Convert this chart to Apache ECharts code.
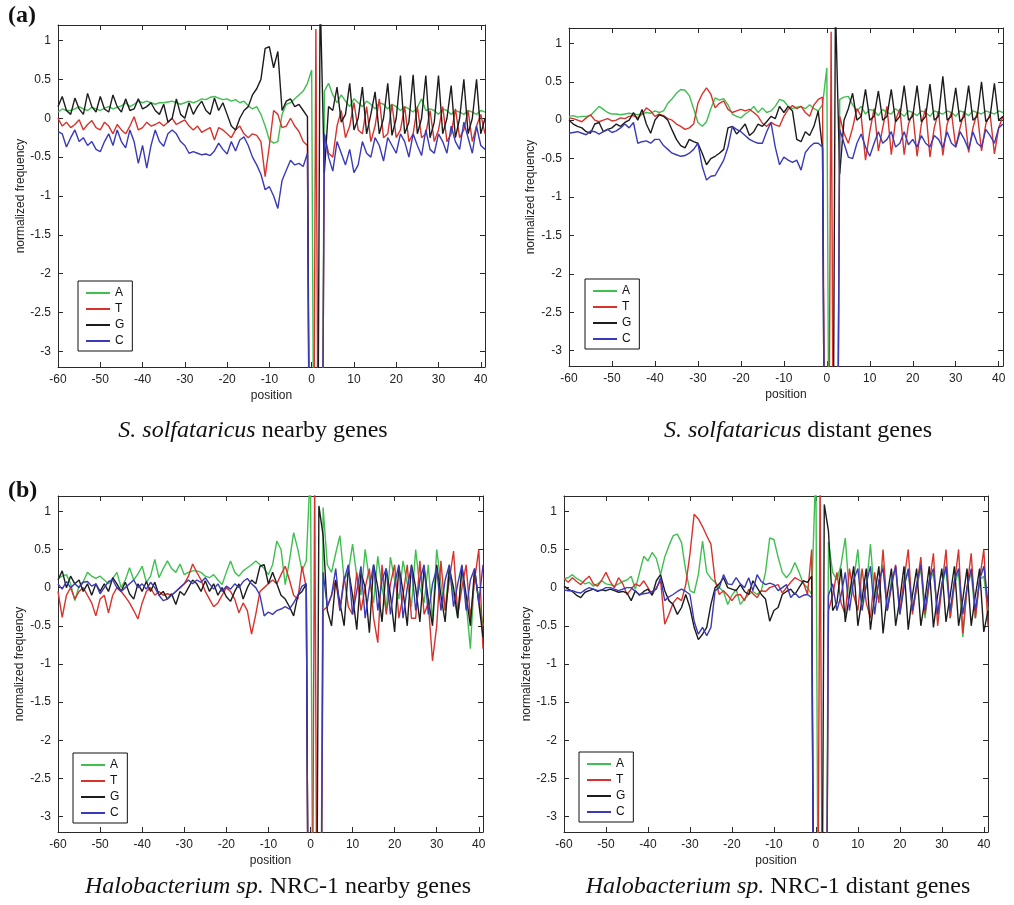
<!DOCTYPE html>
<html>
<head>
<meta charset="utf-8">
<script src="https://cdn.jsdelivr.net/npm/echarts@6/dist/echarts.min.js"></script>
<style>
html,body{margin:0;padding:0;background:#fff;}
#chart{width:1014px;height:905px;}
</style>
</head>
<body>
<div id="chart"></div>
<script>
// positions -60 .. 41
const positions = [];
for (let p = -60; p <= 41; p++) positions.push(p);

const xTickLabels = [-60, -50, -40, -30, -20, -10, 0, 10, 20, 30, 40];
const yTickLabels = [-3, -2.5, -2, -1.5, -1, -0.5, 0, 0.5, 1];
const bases = ['A', 'T', 'G', 'C'];
const captions = [
  ['S. solfataricus', ' nearby genes'],
  ['S. solfataricus', ' distant genes'],
  ['Halobacterium sp.', ' NRC-1 nearby genes'],
  ['Halobacterium sp.', ' NRC-1 distant genes']
];

// ---------- Panel 1: S. solfataricus nearby ----------
const A1 = [0.08,0.12,0.10,0.10,0.12,0.15,0.12,0.10,0.14,0.12,
  0.10,0.13,0.15,0.12,0.14,0.16,0.20,0.15,0.18,0.22,
  0.20,0.22,0.20,0.18,0.20,0.20,0.21,0.22,0.20,0.18,
  0.20,0.22,0.20,0.22,0.25,0.24,0.27,0.28,0.26,0.24,
  0.25,0.22,0.24,0.20,0.22,0.16,0.12,0.15,0.05,-0.10,
  -0.28,-0.32,-0.30,0.05,0.18,0.20,0.25,0.30,0.35,0.45,
  0.62,-10,-10,0.35,0.45,0.30,0.20,0.30,0.22,0.15,
  0.25,0.20,0.15,0.22,0.18,0.12,0.20,0.18,0.12,0.18,
  0.15,0.10,0.15,0.12,0.08,0.14,0.25,0.10,0.12,0.10,
  0.05,0.12,0.10,0.05,0.10,0.08,0.05,0.10,0.08,0.05,
  0.10,0.08];
const T1 = [0.00,-0.10,-0.05,-0.12,-0.08,-0.02,-0.15,-0.08,-0.03,-0.12,
  -0.15,-0.05,-0.10,-0.20,-0.08,-0.15,-0.20,-0.10,0.02,-0.15,
  -0.12,-0.05,-0.10,-0.08,-0.05,-0.10,-0.05,0.00,-0.08,-0.05,
  -0.02,-0.10,-0.15,-0.10,-0.18,-0.15,-0.12,-0.28,-0.12,-0.15,
  -0.20,-0.25,-0.15,-0.10,-0.20,-0.25,-0.20,-0.22,-0.30,-0.75,
  -0.35,0.10,0.05,-0.12,-0.10,0.00,-0.10,-0.17,-0.30,-0.35,
  -10,1.15,-10,-0.20,-0.45,-0.50,-0.10,0.10,-0.25,-0.10,
  0.20,-0.15,-0.20,0.15,-0.30,-0.10,0.25,-0.25,-0.20,0.18,
  -0.25,-0.15,0.15,-0.30,-0.20,0.15,-0.25,-0.20,0.10,-0.30,
  -0.15,0.15,-0.30,-0.20,0.12,-0.25,-0.15,0.10,-0.30,-0.10,
  0.05,-0.20];
const G1 = [0.15,0.28,0.10,0.05,0.26,0.12,0.05,0.32,0.15,0.08,
  0.28,0.12,0.08,0.30,0.15,0.08,0.25,0.10,0.12,0.25,
  0.12,0.15,0.20,0.10,0.05,0.18,-0.05,0.00,0.25,0.05,
  0.00,0.20,0.05,0.15,0.22,0.10,0.05,0.26,0.10,0.20,
  0.05,-0.10,-0.15,0.00,0.10,0.15,0.30,0.38,0.50,0.90,
  0.92,0.65,0.86,0.10,0.22,0.25,0.15,0.18,0.10,0.02,
  -10,-10,1.6,-0.70,0.15,0.10,0.40,-0.05,0.05,0.45,
  -0.15,0.00,0.40,-0.20,0.05,0.34,-0.20,0.00,0.45,-0.22,
  0.00,0.55,-0.20,-0.05,0.56,-0.20,0.00,0.55,-0.25,-0.05,
  0.55,-0.20,0.00,0.42,-0.25,0.00,0.50,-0.20,0.00,0.50,
  -0.20,0.00];
const C1 = [-0.17,-0.20,-0.37,-0.25,-0.15,-0.30,-0.25,-0.35,-0.30,-0.40,
  -0.43,-0.30,-0.20,-0.35,-0.15,-0.30,-0.38,-0.15,-0.30,-0.58,
  -0.35,-0.64,-0.35,-0.15,-0.30,-0.36,-0.20,-0.15,-0.20,-0.30,
  -0.35,-0.45,-0.43,-0.45,-0.47,-0.46,-0.48,-0.42,-0.32,-0.40,
  -0.46,-0.30,-0.42,-0.28,-0.24,-0.35,-0.50,-0.60,-0.72,-0.92,
  -0.88,-1.00,-1.16,-0.80,-0.67,-0.54,-0.60,-0.58,-0.62,-0.45,
  -10,-10,-10,-0.20,-0.50,-0.68,-0.30,-0.45,-0.60,-0.40,
  -0.70,-0.60,-0.30,-0.45,-0.50,-0.25,-0.35,-0.55,-0.25,-0.35,
  -0.45,-0.20,-0.30,-0.50,-0.20,-0.35,-0.48,-0.15,-0.40,-0.45,
  -0.20,-0.30,-0.45,-0.10,-0.30,-0.40,-0.05,-0.25,-0.45,-0.10,
  -0.35,-0.40];

// ---------- Panel 2: S. solfataricus distant ----------
const A2 = [0.05,0.06,0.04,0.05,0.05,0.06,0.12,0.18,0.14,0.10,
  0.08,0.08,0.07,0.08,0.09,0.08,0.07,0.08,0.10,0.09,
  0.12,0.10,0.12,0.22,0.28,0.35,0.40,0.39,0.32,0.15,
  -0.03,-0.08,-0.02,0.15,0.29,0.26,0.28,0.20,0.08,0.05,
  0.03,0.08,0.12,0.18,0.10,0.16,0.10,0.12,0.18,0.27,
  0.25,0.18,0.15,0.17,0.18,0.15,0.20,0.15,0.12,0.20,
  0.68,-10,-10,0.27,0.30,0.31,0.20,0.12,0.18,0.08,
  0.14,0.12,0.06,0.14,0.10,0.08,0.15,0.10,0.05,0.12,
  0.10,0.06,0.12,0.10,0.05,0.12,0.10,0.08,0.12,0.10,
  0.05,0.12,0.10,0.06,0.12,0.10,0.08,0.12,0.10,0.08,
  0.12,0.10];
const T2 = [0.03,0.02,0.00,-0.02,0.03,0.07,0.00,-0.02,0.00,0.02,
  -0.01,0.00,0.03,0.02,0.05,0.06,0.03,0.08,0.16,0.12,
  0.05,0.08,0.06,0.02,0.00,-0.05,-0.08,-0.12,-0.10,-0.05,
  0.22,0.34,0.42,0.34,0.16,0.22,0.25,0.14,0.10,0.12,
  0.14,0.12,0.14,0.10,0.05,-0.04,-0.08,-0.03,-0.06,-0.08,
  0.05,0.14,0.19,0.15,0.18,0.10,0.05,0.20,0.27,0.30,
  -10,1.15,-10,0.05,-0.17,-0.30,-0.10,0.15,0.05,-0.52,
  -0.15,0.15,-0.40,-0.10,0.18,-0.45,0.00,0.15,-0.45,-0.05,
  0.10,-0.47,-0.05,0.15,-0.48,-0.10,0.12,-0.46,-0.05,0.10,
  -0.35,-0.10,0.12,-0.42,-0.10,0.10,-0.40,-0.05,0.08,-0.44,
  -0.10,0.05];
const G2 = [0.00,-0.05,-0.08,-0.10,-0.15,-0.17,-0.05,-0.03,-0.15,-0.12,
  -0.10,-0.05,-0.08,-0.03,0.00,0.10,0.00,0.14,-0.05,-0.17,
  0.00,0.07,0.05,0.00,-0.13,-0.25,-0.33,-0.36,-0.25,-0.28,
  -0.30,-0.43,-0.58,-0.50,-0.47,-0.43,-0.38,-0.10,-0.08,-0.18,
  -0.12,-0.05,-0.20,-0.15,-0.05,-0.08,-0.02,0.05,0.02,0.18,
  0.10,0.18,0.12,-0.25,-0.28,-0.15,-0.20,-0.08,0.12,-0.38,
  -10,-10,1.5,-0.70,0.00,0.15,0.35,0.00,0.05,0.40,
  0.00,0.05,0.38,0.00,0.05,0.40,-0.02,0.05,0.45,0.00,
  0.05,0.45,-0.02,0.05,0.47,0.00,0.05,0.57,0.00,0.05,
  0.42,-0.02,0.05,0.45,0.00,0.05,0.50,-0.02,0.05,0.48,
  0.00,0.05];
const C2 = [-0.17,-0.16,-0.15,-0.17,-0.19,-0.14,-0.15,-0.18,-0.15,-0.12,
  -0.16,-0.14,-0.10,-0.05,-0.10,-0.03,-0.30,-0.28,-0.27,-0.30,
  -0.25,-0.25,-0.33,-0.38,-0.43,-0.45,-0.47,-0.46,-0.43,-0.38,
  -0.30,-0.60,-0.78,-0.73,-0.72,-0.62,-0.52,-0.35,-0.08,-0.12,
  -0.15,-0.20,-0.25,-0.28,-0.30,-0.30,-0.15,-0.03,-0.35,-0.58,
  -0.48,-0.52,-0.55,-0.52,-0.65,-0.42,-0.35,-0.30,-0.30,-0.35,
  -10,-10,-10,-0.12,-0.30,-0.48,-0.50,-0.30,-0.18,-0.35,
  -0.47,-0.30,-0.15,-0.30,-0.25,-0.15,-0.35,-0.30,-0.15,-0.32,
  -0.25,-0.35,-0.20,-0.30,-0.35,-0.20,-0.25,-0.36,-0.15,-0.30,
  -0.35,-0.15,-0.25,-0.38,-0.15,-0.30,-0.35,-0.12,-0.20,-0.30,
  -0.10,-0.05];

// ---------- Panel 3: Halobacterium nearby ----------
const A3 = [0.12,0.15,0.17,0.05,-0.17,0.02,0.08,0.20,0.15,0.12,
  0.15,0.10,0.05,0.12,0.20,0.00,0.10,0.26,0.10,0.18,
  0.28,0.07,0.15,0.37,0.13,0.25,0.35,0.25,0.20,0.31,
  0.17,0.20,0.22,0.22,0.20,0.15,0.13,0.17,0.10,0.04,
  0.20,0.35,0.20,0.15,0.22,0.26,0.30,0.35,0.30,0.25,
  0.17,0.30,0.61,0.50,0.04,0.35,0.72,0.50,0.22,0.35,
  1.6,-10,-10,1.05,0.30,0.20,0.45,0.68,0.10,0.20,
  0.57,0.15,-0.10,0.50,0.10,-0.20,0.41,0.00,-0.30,0.40,
  0.10,-0.15,0.35,0.05,-0.25,0.50,0.00,-0.20,0.30,-0.45,
  0.50,0.05,-0.30,0.30,-0.10,-0.40,0.25,-0.20,-0.80,0.20,
  -0.15,-0.50];
const T3 = [-0.05,-0.39,-0.10,0.00,-0.15,-0.05,0.00,-0.10,-0.20,-0.37,
  -0.15,-0.10,-0.33,-0.10,0.00,-0.05,-0.12,-0.20,-0.30,-0.41,
  -0.20,-0.05,0.00,-0.10,-0.05,-0.10,-0.08,-0.10,-0.05,0.00,
  0.05,0.15,0.31,0.20,0.10,-0.05,-0.15,-0.25,-0.20,-0.10,
  0.00,-0.05,-0.15,-0.33,-0.20,-0.30,-0.61,-0.35,-0.05,0.00,
  0.05,0.10,0.05,0.17,0.28,0.10,-0.10,-0.15,0.28,0.00,
  -10,1.5,-10,-0.30,-0.25,-0.10,0.10,-0.30,0.15,-0.25,
  -0.35,0.20,-0.30,0.00,0.25,-0.40,-0.72,0.30,-0.35,0.05,
  0.30,-0.40,-0.10,0.30,-0.40,-0.40,0.35,-0.35,-0.20,-0.96,
  -0.50,0.35,-0.30,0.10,0.48,-0.35,0.00,0.30,-0.40,0.10,
  0.50,-0.80];
const G3 = [0.10,0.22,0.00,0.15,0.05,0.10,-0.05,0.05,-0.10,0.05,
  -0.05,0.05,-0.05,0.13,0.05,-0.05,0.07,-0.08,-0.15,0.05,
  -0.05,0.08,-0.05,0.07,-0.10,-0.05,-0.15,-0.08,-0.22,-0.05,
  -0.10,0.00,0.10,0.05,-0.05,0.09,-0.05,0.05,-0.10,0.00,
  -0.12,-0.18,-0.05,0.05,-0.15,0.00,0.10,0.05,0.28,0.30,
  0.05,0.20,0.05,-0.10,-0.15,-0.25,-0.37,-0.10,-0.05,0.05,
  -10,-10,1.07,0.68,-0.30,-0.50,0.10,-0.20,-0.50,0.25,
  -0.10,-0.55,0.20,0.00,-0.59,0.30,0.00,-0.45,0.25,-0.10,
  -0.58,0.28,-0.05,-0.50,0.30,0.00,-0.45,0.25,-0.15,-0.50,
  0.30,-0.10,-0.45,0.25,0.00,-0.40,0.28,-0.10,-0.50,0.25,
  -0.20,-0.65];
const C3 = [0.05,-0.02,0.08,0.00,0.05,0.00,0.07,0.08,0.02,0.05,
  -0.08,0.00,0.08,0.10,0.00,-0.05,0.00,0.05,0.10,0.00,
  0.05,-0.02,0.07,0.00,-0.10,-0.17,-0.15,-0.10,-0.05,0.00,
  0.05,0.10,0.05,0.10,0.07,0.13,0.05,-0.02,0.05,-0.05,
  0.02,-0.02,0.05,0.00,0.08,0.12,0.05,0.00,-0.10,-0.37,
  -0.32,-0.35,-0.30,-0.28,-0.25,-0.28,-0.20,-0.10,0.02,0.05,
  -10,-10,-10,0.20,-0.25,-0.10,0.25,-0.30,0.10,0.30,
  -0.35,-0.05,0.28,-0.40,0.00,0.30,-0.30,0.10,0.25,-0.35,
  0.05,0.30,-0.40,0.00,0.28,-0.30,0.10,0.30,-0.35,0.05,
  0.25,-0.30,0.10,0.30,-0.25,0.05,0.30,-0.30,0.10,0.25,
  -0.20,0.30];

// ---------- Panel 4: Halobacterium distant ----------
const A4 = [0.12,0.13,0.17,0.12,0.09,0.05,0.07,0.02,0.05,0.09,
  0.05,0.04,0.02,0.05,0.08,0.10,0.15,-0.02,0.20,0.41,
  0.35,0.46,0.38,0.17,0.40,0.55,0.68,0.70,0.59,0.22,
  -0.04,-0.07,0.17,0.61,0.20,0.12,0.07,0.00,-0.05,-0.22,
  -0.10,-0.02,-0.22,-0.15,-0.09,-0.05,-0.09,-0.04,0.20,0.65,
  0.63,0.40,0.20,0.13,0.20,0.33,0.20,0.05,0.00,-0.09,
  1.6,-10,-10,0.60,0.20,0.10,0.30,0.65,-0.10,0.10,
  0.50,-0.20,0.00,0.57,-0.15,0.05,0.30,-0.30,0.10,0.25,
  -0.35,0.05,0.20,-0.30,0.00,0.25,-0.40,0.05,0.20,-0.35,
  0.00,0.25,-0.40,0.05,0.20,-0.65,0.00,0.20,-0.40,0.10,
  0.15,-0.30];
const T4 = [0.12,0.07,0.13,0.08,0.04,0.10,0.15,0.05,0.02,0.10,
  0.20,0.08,0.00,0.13,0.05,-0.09,-0.02,0.05,0.02,0.09,
  0.00,-0.09,0.00,0.09,-0.48,-0.35,-0.20,-0.13,-0.17,0.04,
  0.44,0.96,0.90,0.80,0.68,0.57,0.09,-0.09,-0.04,-0.10,
  -0.17,-0.10,-0.09,-0.17,-0.02,-0.08,-0.13,-0.04,-0.05,0.00,
  0.02,0.04,-0.07,0.00,0.07,0.13,0.10,0.07,-0.09,0.50,
  -10,1.5,-10,-0.30,-0.10,0.20,-0.20,-0.35,0.25,-0.10,
  -0.30,0.25,-0.20,-0.40,0.20,-0.20,0.50,-0.30,0.00,0.30,
  -0.30,0.10,0.50,-0.35,0.00,0.40,-0.35,0.05,0.45,-0.50,
  0.00,0.50,-0.40,0.05,0.50,-0.60,0.00,0.45,-0.40,0.10,
  0.50,-0.50];
const G4 = [0.02,-0.02,-0.05,-0.10,-0.13,-0.06,-0.04,-0.02,-0.05,-0.03,
  -0.04,-0.02,-0.04,-0.06,-0.05,-0.07,-0.17,-0.04,-0.10,-0.05,
  -0.02,-0.10,0.09,0.17,-0.04,-0.17,-0.22,-0.35,-0.26,-0.09,
  -0.26,-0.52,-0.68,-0.61,-0.52,-0.22,0.00,0.05,0.13,0.00,
  -0.02,-0.04,0.04,-0.05,-0.09,0.09,0.00,-0.09,-0.15,-0.44,
  -0.30,-0.26,-0.09,-0.05,-0.02,-0.09,0.00,0.09,0.07,0.15,
  -10,-10,1.09,0.74,-0.30,-0.20,0.25,-0.45,-0.10,0.28,
  -0.50,-0.15,0.25,-0.55,-0.10,0.28,-0.60,-0.10,0.25,-0.50,
  -0.15,0.28,-0.55,-0.10,0.25,-0.50,-0.15,0.28,-0.52,-0.10,
  0.25,-0.45,-0.10,0.28,-0.50,-0.15,0.25,-0.50,-0.10,0.25,
  -0.58,-0.30];
const C4 = [-0.03,-0.04,-0.04,-0.06,-0.07,-0.03,0.00,-0.02,-0.04,-0.03,
  0.00,0.00,-0.02,-0.04,-0.02,0.00,0.00,-0.05,-0.09,-0.08,
  -0.07,-0.05,-0.02,0.13,-0.17,-0.12,-0.09,-0.05,-0.02,-0.05,
  -0.09,-0.44,-0.61,-0.52,-0.63,-0.52,-0.04,0.00,0.17,0.05,
  0.04,0.13,0.05,0.00,0.13,-0.04,0.17,0.08,0.04,0.06,
  0.04,-0.04,0.00,0.04,-0.13,-0.07,-0.13,-0.10,-0.09,-0.13,
  -10,-10,-10,-0.10,0.05,-0.30,-0.10,0.20,-0.30,0.10,
  0.25,-0.30,0.05,0.28,-0.35,0.10,0.25,-0.30,0.05,0.28,
  -0.35,0.00,0.25,-0.30,0.05,0.30,-0.30,0.10,0.25,-0.35,
  0.05,0.28,-0.30,0.10,0.25,-0.35,0.00,0.25,-0.30,0.10,
  0.28,-0.20];

const panels = [[A1,T1,G1,C1],[A2,T2,G2,C2],[A3,T3,G3,C3],[A4,T4,G4,C4]];
const colors = ['#3fbf50', '#d8322c', '#1c1c1c', '#3a3ab8'];

const gridPos = [
  {left:58, top:25, width:427, height:342},
  {left:569, top:28, width:434, height:338},
  {left:58, top:496, width:425, height:336},
  {left:564, top:496, width:424, height:336}
];
const legendPos = [
  {left:78, top:281}, {left:585, top:279}, {left:73, top:753}, {left:579, top:752}
];
const yNameGap = [31, 32, 32, 31];
const captionPos = [[253, 431], [798, 431], [278, 887], [778, 887]];

const FONT = 'Liberation Sans, Arial, sans-serif';
const SERIF = 'Liberation Serif, Times New Roman, serif';
const lineColor = '#2a2a2a';

const grids = [], xAxes = [], yAxes = [], series = [], legends = [], graphics = [];

gridPos.forEach((g, i) => {
  grids.push(Object.assign({show:false}, g));
  const tick = {show:true, inside:true, length:5, lineStyle:{color:lineColor, width:1}};
  xAxes.push({
    type:'value', gridIndex:i, position:'bottom', min:-60, max:41,
    name:'position', nameLocation:'middle', nameGap:23,
    nameTextStyle:{fontFamily:FONT, fontSize:12, color:'#222'},
    axisLine:{show:true, onZero:false, lineStyle:{color:lineColor, width:1}},
    axisTick:Object.assign({customValues:xTickLabels}, tick),
    axisLabel:{customValues:xTickLabels, fontFamily:FONT, fontSize:12, color:'#222', margin:7},
    splitLine:{show:false}
  });
  xAxes.push({
    type:'value', gridIndex:i, position:'top', min:-60, max:41,
    axisLine:{show:true, onZero:false, lineStyle:{color:lineColor, width:1}},
    axisTick:Object.assign({customValues:xTickLabels}, tick),
    axisLabel:{show:false}, splitLine:{show:false}
  });
  yAxes.push({
    type:'value', gridIndex:i, position:'left', min:-3.2, max:1.2,
    name:'normalized frequency', nameLocation:'middle', nameGap:yNameGap[i],
    nameTextStyle:{fontFamily:FONT, fontSize:12, color:'#222'},
    axisLine:{show:true, onZero:false, lineStyle:{color:lineColor, width:1}},
    axisTick:Object.assign({customValues:yTickLabels}, tick),
    axisLabel:{customValues:yTickLabels, fontFamily:FONT, fontSize:12, color:'#222', margin:7},
    splitLine:{show:false}
  });
  yAxes.push({
    type:'value', gridIndex:i, position:'right', min:-3.2, max:1.2,
    axisLine:{show:true, onZero:false, lineStyle:{color:lineColor, width:1}},
    axisTick:Object.assign({customValues:yTickLabels}, tick),
    axisLabel:{show:false}, splitLine:{show:false}
  });
  panels[i].forEach((arr, b) => {
    series.push({
      name: bases[b], type:'line', xAxisIndex:i*2, yAxisIndex:i*2,
      data: positions.map((p, k) => [p, arr[k]]),
      symbol:'none', showSymbol:false, clip:true,
      color: colors[b],
      lineStyle:{color:colors[b], width:1.4},
      animation:false, silent:true
    });
  });
  legends.push({
    left:legendPos[i].left, top:legendPos[i].top, orient:'vertical',
    data:bases, selectedMode:false, icon:'rect', itemWidth:24, itemHeight:2, itemGap:4,
    padding:[6, 8, 4, 8], borderColor:'#111', borderWidth:1, backgroundColor:'#fff',
    textStyle:{fontFamily:FONT, fontSize:12, color:'#111'}
  });
  graphics.push({
    type:'text', x:captionPos[i][0], y:captionPos[i][1],
    style:{
      text:'{i|' + captions[i][0] + '}' + captions[i][1],
      fontFamily:SERIF, fontSize:24, fill:'#111',
      align:'center', verticalAlign:'middle',
      rich:{i:{fontFamily:SERIF, fontSize:24, fontStyle:'italic', fill:'#111'}}
    }
  });
});

graphics.push({type:'text', x:8, y:16, style:{text:'(a)', fontFamily:SERIF, fontSize:24, fontWeight:'bold', fill:'#111', verticalAlign:'middle'}});
graphics.push({type:'text', x:8, y:491, style:{text:'(b)', fontFamily:SERIF, fontSize:24, fontWeight:'bold', fill:'#111', verticalAlign:'middle'}});

const chart = echarts.init(document.getElementById('chart'), null, {renderer:'canvas'});
chart.setOption({
  backgroundColor:'#fff',
  animation:false,
  grid:grids, xAxis:xAxes, yAxis:yAxes, series:series, legend:legends, graphic:graphics
});
</script>
</body>
</html>
